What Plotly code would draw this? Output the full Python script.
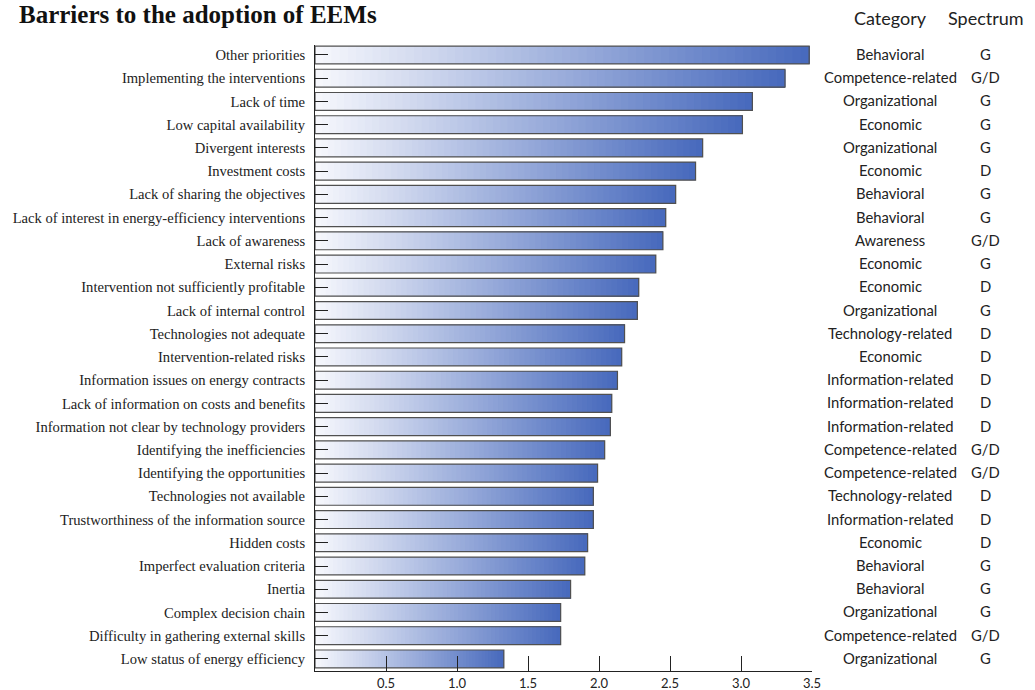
import plotly.graph_objects as go

# Barriers, ordered from highest to lowest mean score
barriers = [
    "Other priorities",
    "Implementing the interventions",
    "Lack of time",
    "Low capital availability",
    "Divergent interests",
    "Investment costs",
    "Lack of sharing the objectives",
    "Lack of interest in energy-efficiency interventions",
    "Lack of awareness",
    "External risks",
    "Intervention not sufficiently profitable",
    "Lack of internal control",
    "Technologies not adequate",
    "Intervention-related risks",
    "Information issues on energy contracts",
    "Lack of information on costs and benefits",
    "Information not clear by technology providers",
    "Identifying the inefficiencies",
    "Identifying the opportunities",
    "Technologies not available",
    "Trustworthiness of the information source",
    "Hidden costs",
    "Imperfect evaluation criteria",
    "Inertia",
    "Complex decision chain",
    "Difficulty in gathering external skills",
    "Low status of energy efficiency",
]

scores = [3.48, 3.31, 3.08, 3.01, 2.73, 2.68, 2.54, 2.47, 2.45, 2.40,
          2.28, 2.27, 2.18, 2.16, 2.13, 2.09, 2.08, 2.04, 1.99, 1.96,
          1.96, 1.92, 1.90, 1.80, 1.73, 1.73, 1.33]

categories = [
    "Behavioral", "Competence-related", "Organizational", "Economic",
    "Organizational", "Economic", "Behavioral", "Behavioral", "Awareness",
    "Economic", "Economic", "Organizational", "Technology-related",
    "Economic", "Information-related", "Information-related",
    "Information-related", "Competence-related", "Competence-related",
    "Technology-related", "Information-related", "Economic", "Behavioral",
    "Behavioral", "Organizational", "Competence-related", "Organizational",
]

spectrum = ["G", "G/D", "G", "G", "G", "D", "G", "G", "G/D", "G", "D", "G",
            "D", "D", "D", "D", "D", "G/D", "G/D", "D", "D", "D", "G", "G",
            "G", "G/D", "G"]

x_ticks = [0.5, 1.0, 1.5, 2.0, 2.5, 3.0, 3.5]

LABEL_FONT = "Liberation Serif"
SIDE_FONT = "Lato"
START_RGB = (246, 247, 252)
END_RGB = (72, 106, 189)
N_STEPS = 60
BAR_WIDTH = 0.77

fig = go.Figure()

# Horizontal gradient fill: each layer starts a bit further along the bar
for i in range(N_STEPS):
    t = i / (N_STEPS - 1)
    rgb = tuple(round(a + (b - a) * t) for a, b in zip(START_RGB, END_RGB))
    frac = i / N_STEPS
    fig.add_trace(go.Bar(
        y=barriers,
        x=[v * (1 - frac) for v in scores],
        base=[v * frac for v in scores],
        orientation="h",
        width=BAR_WIDTH,
        marker=dict(color="rgb(%d,%d,%d)" % rgb, line=dict(width=0)),
        showlegend=False,
        hoverinfo="skip",
    ))

# Outline of each bar
fig.add_trace(go.Bar(
    y=barriers,
    x=scores,
    base=[0] * len(scores),
    orientation="h",
    width=BAR_WIDTH,
    marker=dict(color="rgba(0,0,0,0)", line=dict(color="#505050", width=1.2)),
    showlegend=False,
    hovertemplate="%{y}: %{x:.2f}<extra></extra>",
))

annotations = []
for b, c, s in zip(barriers, categories, spectrum):
    annotations.append(dict(x=1.157, y=b, xref="paper", yref="y", text=c,
                            showarrow=False, xanchor="center", yshift=1,
                            font=dict(family=SIDE_FONT, size=14.8, color="#222")))
    annotations.append(dict(x=1.350, y=b, xref="paper", yref="y", text=s,
                            showarrow=False, xanchor="center", yshift=1,
                            font=dict(family=SIDE_FONT, size=14.8, color="#222")))

annotations.append(dict(x=1.157, y=1.064, xref="paper", yref="paper",
                        text="Category", showarrow=False, xanchor="center",
                        font=dict(family=SIDE_FONT, size=18, color="#222")))
annotations.append(dict(x=1.350, y=1.064, xref="paper", yref="paper",
                        text="Spectrum", showarrow=False, xanchor="center",
                        font=dict(family=SIDE_FONT, size=18, color="#222")))
annotations.append(dict(x=-0.5996, y=1.0235, xref="paper", yref="paper",
                        text="<b>Barriers to the adoption of EEMs</b>",
                        showarrow=False, xanchor="left", yanchor="bottom",
                        font=dict(family=LABEL_FONT, size=25, color="#111")))

fig.update_layout(
    width=1035, height=690,
    margin=dict(l=315, r=223, t=45, b=19),
    paper_bgcolor="white", plot_bgcolor="white",
    barmode="overlay",
    annotations=annotations,
    xaxis=dict(
        range=[0, 3.5], tickvals=x_ticks, ticktext=["%.1f" % v for v in x_ticks],
        ticks="inside", ticklen=15, tickwidth=1, tickcolor="#222",
        showline=True, linecolor="#222", linewidth=1,
        showgrid=False, zeroline=False, automargin=False,
        tickfont=dict(family=SIDE_FONT, size=13, color="#222"),
    ),
    yaxis=dict(
        categoryorder="array", categoryarray=barriers,
        range=[len(barriers) - 0.48, -0.43],
        ticks="inside", ticklen=13, tickwidth=1, tickcolor="#222",
        showline=True, linecolor="#222", linewidth=1,
        showgrid=False, zeroline=False, ticklabelstandoff=6, automargin=False,
        tickfont=dict(family=LABEL_FONT, size=14.6, color="#222"),
    ),
)

fig.write_html("out.html")
